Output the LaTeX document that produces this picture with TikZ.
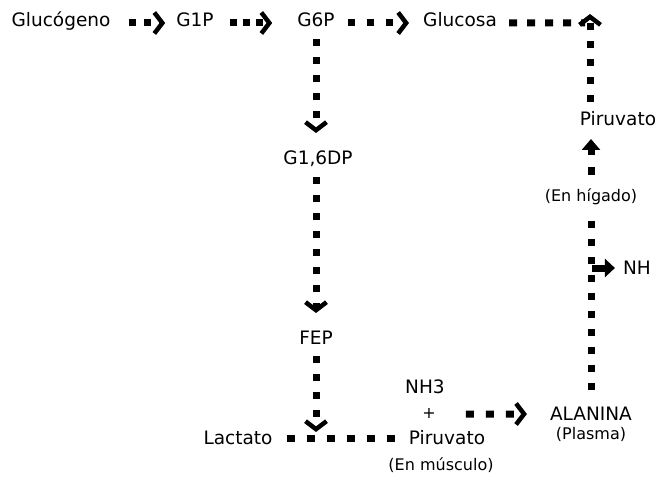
\documentclass[tikz,border=0pt]{standalone}
\usepackage{fontspec}
\setmainfont{DejaVu Sans}
\usetikzlibrary{arrows.meta}
\tikzset{
  lbl/.style={inner sep=0pt, anchor=base, font=\fontsize{18.5bp}{21bp}\selectfont},
  sml/.style={inner sep=0pt, anchor=base, font=\fontsize{16bp}{18bp}\selectfont},
  dots/.style={line width=7bp, dash pattern=on 7bp off 11bp},
  hdots/.style={line width=7bp, dash pattern=on 7bp off 12bp},
  chev/.style={-{Straight Barb[length=8bp,width=21bp,line width=4.5bp]}},
  fillarr/.style={-{Triangle[length=11bp,width=18bp]}},
  solidarr/.style={line width=7bp,-{Triangle[length=10bp,width=18bp]}}
}
\begin{document}
\begin{tikzpicture}[x=1bp,y=-1bp]
\useasboundingbox (0,0) rectangle (665,488);
% nodes
\node[lbl] (gluc) at (61,27) {Glucógeno};
\node[lbl] (g1p) at (195,27) {G1P};
\node[lbl] (g6p) at (316,27) {G6P};
\node[lbl] (glucosa) at (460,27) {Glucosa};
\node[lbl] (piru2) at (618,126) {Piruvato};
\node[sml] (enhig) at (591,202) {(En hígado)};
\node[lbl] (nh) at (637,274) {NH};
\node[lbl] (alanina) at (591,420) {ALANINA};
\node[sml] (plasma) at (591,439) {(Plasma)};
\node[lbl] (nh3) at (425,393) {NH3};
\node[sml] (plus) at (429,418) {+};
\node[lbl] (g16dp) at (318,165) {G1,6DP};
\node[lbl] (fep) at (316,344) {FEP};
\node[lbl] (lactato) at (238,444) {Lactato};
\node[lbl] (piru1) at (447,444) {Piruvato};
\node[sml] (enmus) at (441,470) {(En músculo)};
\coordinate (corner) at (590,14);
\coordinate (lrow) at (316,432);
% top row
\draw[hdots,dash pattern=on 7bp off 8bp,chev] ([xshift=18bp,yshift=4bp]gluc.base east) -- ([xshift=-11bp,yshift=4bp]g1p.base west);
\draw[hdots,dash pattern=on 7bp off 6bp,chev] ([xshift=16bp,yshift=4bp]g1p.base east) -- ([xshift=-25bp,yshift=4bp]g6p.base west);
\draw[hdots,dash pattern=on 7bp off 12bp,chev] ([xshift=13bp,yshift=4bp]g6p.base east) -- ([xshift=-14bp,yshift=4bp]glucosa.base west);
\draw[hdots,dash pattern=on 8bp off 10bp] ([xshift=12bp,yshift=4bp]glucosa.base east) -- ([xshift=-5bp,yshift=-9bp]corner);
\draw[dots,chev] ([yshift=24bp]piru2.base -| corner) -- (corner);
% right column
\draw[dots,dash pattern=on 8bp off 12bp,fillarr] ([yshift=27bp]enhig.base) -- ([yshift=-13bp]enhig.base |- piru2.base);
\draw[dots] ([yshift=30bp]alanina.base) -- ([yshift=-12bp]enhig.base);
\draw[solidarr] ([xshift=-31bp,yshift=6bp]nh.base west) -- ([xshift=-8bp,yshift=6bp]nh.base west);
% middle column
\draw[dots,chev] ([yshift=-12bp]g6p.base) -- ([yshift=32bp]g16dp.base -| g6p.base);
\draw[dots,chev] ([yshift=-12bp]g16dp.base -| fep.base) -- ([yshift=31bp]fep.base);
\draw[dots,chev] ([yshift=-12bp]fep.base) -- (lrow);
% bottom
\draw[hdots,dash pattern=on 8bp off 12bp] ([xshift=14bp,yshift=6bp]lactato.base east) -- ([xshift=-8bp,yshift=6bp]piru1.base west);
\draw[hdots,dash pattern=on 8bp off 12bp,chev] ([xshift=30bp,yshift=4bp]plus.base east) -- ([xshift=-23bp,yshift=6bp]alanina.base west);
\end{tikzpicture}
\end{document}
